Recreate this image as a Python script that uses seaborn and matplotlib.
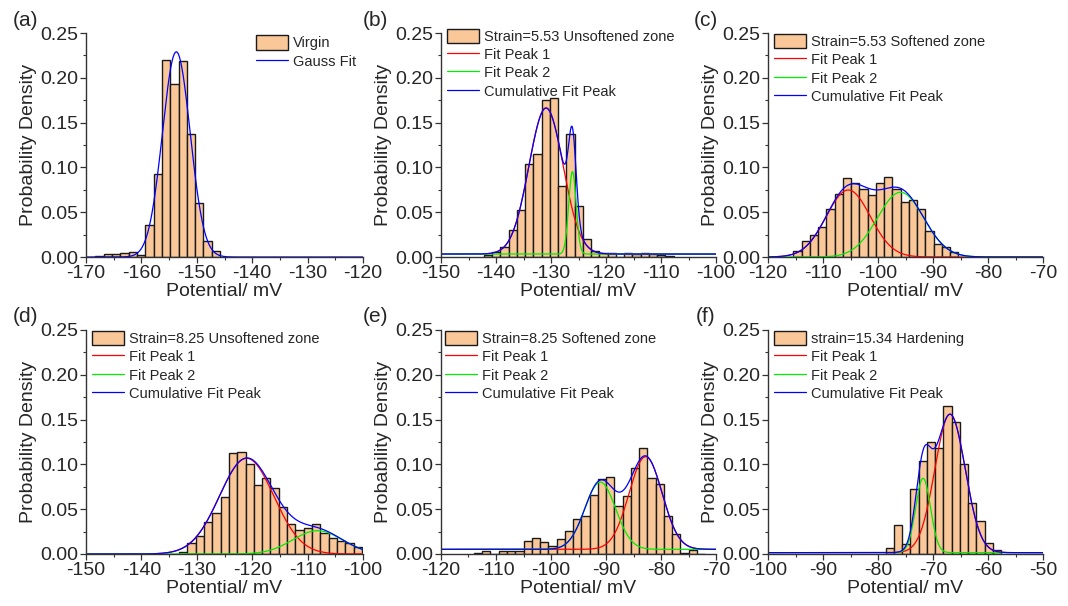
import numpy as np
import pandas as pd
import seaborn as sns
import matplotlib.pyplot as plt
from matplotlib.patches import Patch
from matplotlib.lines import Line2D
from matplotlib.ticker import MultipleLocator, FormatStrFormatter

BIN_W = 1.5

# (a) virgin
a_start = -168.3
a_dens = [0.001, 0.003, 0.0037, 0.005, 0.006, 0.0026, 0.036, 0.0925, 0.220,
          0.193, 0.219, 0.137, 0.0606, 0.0175, 0.0067]
a_fit = dict(y0=0.0, c=[-153.7], w=[2.5], amp=[0.229])

# (b) strain 5.53 unsoftened
b_start = -142.2
b_dens = [0.002, 0.006, 0.011, 0.030, 0.053, 0.104, 0.115, 0.175, 0.178, 0.079,
          0.137, 0.057, 0.020, 0.007, 0.005, 0.004, 0.0, 0.004, 0.003, 0.004,
          0.003, 0.002, 0.001]
b_fit = dict(y0=0.0033, c=[-130.9, -126.1], w=[3.1, 0.68], amp=[0.163, 0.092])

# (c) strain 5.53 softened
c_start = -115.4
c_dens = [0.0067, 0.0179, 0.0242, 0.0331, 0.0532, 0.070, 0.0878, 0.0822, 0.0763,
          0.0692, 0.0822, 0.0889, 0.0755, 0.0618, 0.0636, 0.0532, 0.029, 0.0141,
          0.0115, 0.0052]
c_fit = dict(y0=0.0, c=[-105.4, -95.9], w=[4.0, 4.2], amp=[0.0748, 0.0722])

# (d) strain 8.25 unsoftened
d_start = -133.2
d_dens = [0.0019, 0.0119, 0.020, 0.0353, 0.0461, 0.064, 0.1131, 0.1138, 0.1001,
          0.077, 0.0845, 0.0733, 0.0521, 0.0331, 0.0268, 0.0294, 0.0331, 0.0231,
          0.0182, 0.0149, 0.0126, 0.0075]
d_fit = dict(y0=0.0, c=[-121.0, -108.2], w=[4.9, 4.5], amp=[0.1068, 0.026])

# (e) strain 8.25 softened
e_start = -114.0
e_dens = [0.0007, 0.003, 0.0, 0.003, 0.003, 0.003, 0.015, 0.0175, 0.013, 0.0085,
          0.017, 0.026, 0.039, 0.0427, 0.066, 0.0834, 0.0863, 0.0536, 0.0647,
          0.0963, 0.1179, 0.0845, 0.0781, 0.0424, 0.0223, 0.0015, 0.0045, 0.0005]
e_fit = dict(y0=0.0052, c=[-82.8, -91.05], w=[3.0, 2.8], amp=[0.1034, 0.075])

# (f) strain 15.34 hardening
f_start = -78.6
f_dens = [0.0063, 0.0324, 0.011, 0.0725, 0.104, 0.1246, 0.118, 0.1655, 0.1477,
          0.1004, 0.0565, 0.0372, 0.0126, 0.004]
f_fit = dict(y0=0.0015, c=[-66.9, -71.8], w=[2.75, 1.35], amp=[0.1545, 0.083])

panel_tags = ["(a)", "(b)", "(c)", "(d)", "(e)", "(f)"]
hist_labels = ["Virgin", "Strain=5.53 Unsoftened zone", "Strain=5.53 Softened zone",
               "Strain=8.25 Unsoftened zone", "Strain=8.25 Softened zone",
               "strain=15.34 Hardening"]
x_ranges = [(-170, -120), (-150, -100), (-120, -70), (-150, -100), (-120, -70), (-100, -50)]

BAR = "#FAC898"
EDGE = "#1a1a1a"

sns.set_style("ticks")
plt.rcParams["font.family"] = ["Liberation Sans", "DejaVu Sans"]

W, H = 1068, 606
fig = plt.figure(figsize=(W / 100, H / 100), dpi=100)

cols = [(86, 277), (441, 275), (768, 275)]
rows = [33, 330]
ax_h = 224
legend_anchor = [(0.615, 0.99), (0.022, 1.02), (0.022, 0.996),
                 (0.022, 0.996), (0.016, 0.996), (0.023, 0.996)]

panels = [(a_start, a_dens, a_fit), (b_start, b_dens, b_fit), (c_start, c_dens, c_fit),
          (d_start, d_dens, d_fit), (e_start, e_dens, e_fit), (f_start, f_dens, f_fit)]


def gauss(x, c, w, amp):
    return amp * np.exp(-(x - c) ** 2 / (2 * w ** 2))


for k, (start, dens, fit) in enumerate(panels):
    r, cidx = divmod(k, 3)
    left, width = cols[cidx]
    top = rows[r]
    ax = fig.add_axes([left / W, 1 - (top + ax_h) / H, width / W, ax_h / H])

    n = len(dens)
    df = pd.DataFrame({"pot": start + BIN_W * (np.arange(n) + 0.5), "dens": dens})
    sns.histplot(data=df, x="pot", weights="dens", binwidth=BIN_W,
                 binrange=(start, start + BIN_W * n), stat="count", ax=ax,
                 color=BAR, edgecolor=EDGE, linewidth=1.0, alpha=1)

    x0, x1 = x_ranges[k]
    xs = np.linspace(x0, x1, 800)
    peaks = [gauss(xs, c, w, a) for c, w, a in zip(fit["c"], fit["w"], fit["amp"])]
    total = fit["y0"] + np.sum(peaks, axis=0)

    handles = [Patch(facecolor=BAR, edgecolor=EDGE, linewidth=1.0)]
    labels = [hist_labels[k]]
    if len(peaks) == 1:
        sns.lineplot(x=xs, y=total, ax=ax, color="#0000FF", linewidth=0.9,
                     estimator=None, sort=False)
        handles.append(Line2D([], [], color="#0000FF", linewidth=0.9))
        labels.append("Gauss Fit")
    else:
        for p, col in zip(peaks, ["#FF0000", "#00EE00"]):
            sns.lineplot(x=xs, y=fit["y0"] + p, ax=ax, color=col, linewidth=0.9,
                         estimator=None, sort=False)
        sns.lineplot(x=xs, y=total, ax=ax, color="#0000FF", linewidth=0.9,
                     estimator=None, sort=False)
        handles += [Line2D([], [], color=c, linewidth=0.9)
                    for c in ["#FF0000", "#00EE00", "#0000FF"]]
        labels += ["Fit Peak 1", "Fit Peak 2", "Cumulative Fit Peak"]

    ax.set_xlim(x0, x1)
    ax.set_ylim(0, 0.25)
    ax.xaxis.set_major_locator(MultipleLocator(10))
    ax.xaxis.set_minor_locator(MultipleLocator(5))
    ax.yaxis.set_major_locator(MultipleLocator(0.05))
    ax.yaxis.set_minor_locator(MultipleLocator(0.025))
    ax.yaxis.set_major_formatter(FormatStrFormatter("%.2f"))
    ax.xaxis.set_major_formatter(FormatStrFormatter("%d"))
    sns.despine(ax=ax)
    for s in ["left", "bottom"]:
        ax.spines[s].set_color("#333333")
        ax.spines[s].set_linewidth(1.0)
    ax.tick_params(which="major", direction="out", length=4, width=0.9,
                   color="#333333", labelsize=14, pad=1.5)
    ax.tick_params(which="minor", direction="out", length=2.5, width=0.8,
                   color="#333333")

    ax.set_xlabel("Potential/ mV", fontsize=14, va="center")
    ax.set_ylabel("Probability Density", fontsize=14)
    ax.xaxis.set_label_coords(0.5, -0.155)
    ax.yaxis.set_label_coords(-49 / width, 0.5)

    ax.legend(handles, labels, loc="upper left", bbox_to_anchor=legend_anchor[k],
              frameon=False, fontsize=10.5, borderpad=0, borderaxespad=0,
              handlelength=2.2, handleheight=1.15, handletextpad=0.3,
              labelspacing=0.22)

    tag_x = [25, 375, 706][cidx]
    tag_y = [20, 316][r]
    fig.text(tag_x / W, 1 - tag_y / H, panel_tags[k], fontsize=15,
             ha="center", va="center")

fig.savefig("out.png", dpi=100)
